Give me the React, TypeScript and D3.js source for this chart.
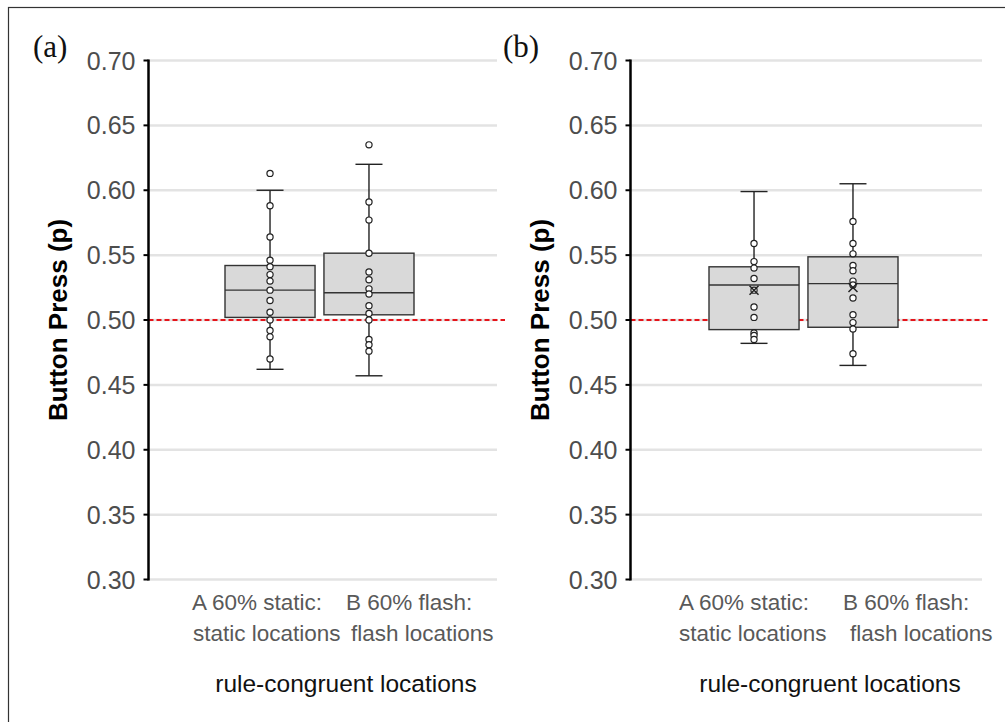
import React from "react";
import * as d3 from "d3";

// categories and tick labels
const categories = ["A", "B"];
const labelLine1 = ["A 60% static:", "B 60% flash:"];
const labelLine2 = ["static locations", "flash locations"];
const yTicks = [0.3, 0.35, 0.4, 0.45, 0.5, 0.55, 0.6, 0.65, 0.7];
const chanceLevel = 0.5;

// box stats: [lower whisker, q1, median, q3, upper whisker]
const statsA = [
  [0.462, 0.502, 0.523, 0.542, 0.6],
  [0.457, 0.504, 0.521, 0.5515, 0.62],
];
const pointsA = [
  [0.613, 0.588, 0.564, 0.546, 0.541, 0.535, 0.53, 0.523, 0.515, 0.506, 0.5, 0.492, 0.487, 0.47],
  [0.635, 0.591, 0.577, 0.5515, 0.537, 0.531, 0.524, 0.52, 0.511, 0.505, 0.5, 0.485, 0.481, 0.476],
];

const statsB = [
  [0.482, 0.4926, 0.527, 0.541, 0.599],
  [0.465, 0.4944, 0.528, 0.5487, 0.605],
];
const pointsB = [
  [0.559, 0.545, 0.54, 0.532, 0.523, 0.51, 0.502, 0.49, 0.488, 0.485],
  [0.576, 0.559, 0.551, 0.542, 0.538, 0.53, 0.527, 0.517, 0.504, 0.498, 0.493, 0.474],
];
const meansB = [0.523, 0.525];

const sans = "'Liberation Sans', Arial, sans-serif";

type PanelProps = {
  tag: string;
  tagX: number;
  axisX: number;
  gridEnd: number;
  refEnd: number;
  boxRange: [number, number];
  titleX: number;
  xTitleX: number;
  labelOffsets: number[][];
  stats: number[][];
  points: number[][];
  means?: number[];
};

const Panel = (p: PanelProps) => {
  const y = d3.scaleLinear().domain([0.3, 0.7]).range([579.5, 60.5]);
  const x = d3.scaleBand<string>().domain(categories).range(p.boxRange).paddingInner(0.09).paddingOuter(0);
  const bw = x.bandwidth();
  const cap = bw * 0.15;

  return (
    <g>
      <text x={p.tagX} y={57} fontFamily="'Liberation Serif', 'Times New Roman', serif" fontSize={31} fill="#111">
        {p.tag}
      </text>
      {yTicks.map((t) => (
        <line key={"g" + t} x1={p.axisX} x2={p.gridEnd} y1={y(t)} y2={y(t)} stroke="#e3e3e3" strokeWidth={2.5} />
      ))}
      <line
        x1={p.axisX} x2={p.refEnd} y1={y(chanceLevel)} y2={y(chanceLevel)}
        stroke="#e5141a" strokeWidth={1.8} strokeDasharray="5,3"
      />
      {categories.map((c, i) => {
        const [lo, q1, med, q3, hi] = p.stats[i];
        const cx = (x(c) as number) + bw / 2;
        return (
          <g key={c}>
            <line x1={cx} x2={cx} y1={y(hi)} y2={y(lo)} stroke="#222" strokeWidth={1.4} />
            <line x1={cx - cap} x2={cx + cap} y1={y(hi)} y2={y(hi)} stroke="#222" strokeWidth={1.4} />
            <line x1={cx - cap} x2={cx + cap} y1={y(lo)} y2={y(lo)} stroke="#222" strokeWidth={1.4} />
            <rect x={x(c)} y={y(q3)} width={bw} height={y(q1) - y(q3)} fill="#d9d9d9" stroke="#333" strokeWidth={1.4} />
            <line x1={x(c)} x2={(x(c) as number) + bw} y1={y(med)} y2={y(med)} stroke="#333" strokeWidth={1.4} />
            {p.points[i].map((v, j) => (
              <circle key={j} cx={cx} cy={y(v)} r={3.1} fill="#fff" stroke="#222" strokeWidth={1.2} />
            ))}
            {p.means && (
              <g stroke="#222" strokeWidth={1.5}>
                <line x1={cx - 4.5} x2={cx + 4.5} y1={y(p.means[i]) - 4.5} y2={y(p.means[i]) + 4.5} />
                <line x1={cx - 4.5} x2={cx + 4.5} y1={y(p.means[i]) + 4.5} y2={y(p.means[i]) - 4.5} />
              </g>
            )}
            <text x={cx + p.labelOffsets[i][0]} y={610} fontFamily={sans} fontSize={22.5} fill="#595959">
              {labelLine1[i]}
            </text>
            <text x={cx + p.labelOffsets[i][1]} y={641} fontFamily={sans} fontSize={22.5} fill="#595959">
              {labelLine2[i]}
            </text>
          </g>
        );
      })}
      <line x1={p.axisX} x2={p.axisX} y1={y(0.7) - 1} y2={y(0.3) + 1} stroke="#000" strokeWidth={2.5} />
      {yTicks.map((t) => (
        <g key={"t" + t}>
          <line x1={p.axisX - 5} x2={p.axisX} y1={y(t)} y2={y(t)} stroke="#000" strokeWidth={2} />
          <text x={p.axisX - 13} y={y(t)} dy="0.36em" textAnchor="end" fontFamily={sans} fontSize={25} fill="#4d4d4d">
            {d3.format(".2f")(t)}
          </text>
        </g>
      ))}
      <text
        transform={`translate(${p.titleX},${y(0.5)}) rotate(-90)`}
        textAnchor="middle" fontFamily={sans} fontSize={26} fontWeight="bold" fill="#000"
      >
        Button Press (p)
      </text>
      <text x={p.xTitleX} y={692} textAnchor="middle" fontFamily={sans} fontSize={24.5} fill="#111">
        rule-congruent locations
      </text>
    </g>
  );
};

export default function App() {
  return (
    <svg width={1005} height={722} style={{ position: "absolute", left: 0, top: 0, background: "#fff" }}>
      <rect x={8.5} y={7.5} width={1010} height={730} fill="#fff" stroke="#333" strokeWidth={1.2} />
      <Panel
        tag="(a)" tagX={33} axisX={148.5} gridEnd={497} refEnd={505} boxRange={[225, 414]}
        titleX={67} xTitleX={346} labelOffsets={[[-78, -77], [-23, -18]]}
        stats={statsA} points={pointsA}
      />
      <Panel
        tag="(b)" tagX={503} axisX={630.5} gridEnd={982} refEnd={990} boxRange={[709, 898]}
        titleX={549} xTitleX={830} labelOffsets={[[-75, -75], [-10, -3]]}
        stats={statsB} points={pointsB} means={meansB}
      />
    </svg>
  );
}
